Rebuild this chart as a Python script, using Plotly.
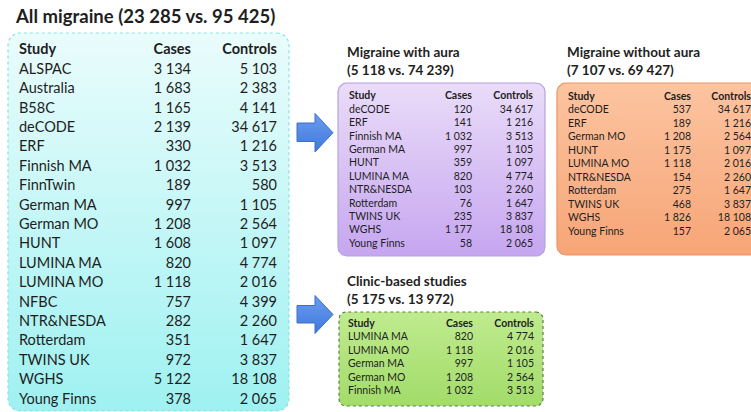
import math
import plotly.graph_objects as go

# ---------------- data ----------------
all_studies = ["ALSPAC", "Australia", "B58C", "deCODE", "ERF", "Finnish MA", "FinnTwin",
               "German MA", "German MO", "HUNT", "LUMINA MA", "LUMINA MO", "NFBC",
               "NTR&NESDA", "Rotterdam", "TWINS UK", "WGHS", "Young Finns"]
all_cases = [3134, 1683, 1165, 2139, 330, 1032, 189, 997, 1208, 1608, 820, 1118, 757,
             282, 351, 972, 5122, 378]
all_controls = [5103, 2383, 4141, 34617, 1216, 3513, 580, 1105, 2564, 1097, 4774, 2016,
                4399, 2260, 1647, 3837, 18108, 2065]

ma_studies = ["deCODE", "ERF", "Finnish MA", "German MA", "HUNT", "LUMINA MA",
              "NTR&NESDA", "Rotterdam", "TWINS UK", "WGHS", "Young Finns"]
ma_cases = [120, 141, 1032, 997, 359, 820, 103, 76, 235, 1177, 58]
ma_controls = [34617, 1216, 3513, 1105, 1097, 4774, 2260, 1647, 3837, 18108, 2065]

mo_studies = ["deCODE", "ERF", "German MO", "HUNT", "LUMINA MO", "NTR&NESDA",
              "Rotterdam", "TWINS UK", "WGHS", "Young Finns"]
mo_cases = [537, 189, 1208, 1175, 1118, 154, 275, 468, 1826, 157]
mo_controls = [34617, 1216, 2564, 1097, 2016, 2260, 1647, 3837, 18108, 2065]

cl_studies = ["LUMINA MA", "LUMINA MO", "German MA", "German MO", "Finnish MA"]
cl_cases = [820, 1118, 997, 1208, 1032]
cl_controls = [4774, 2016, 1105, 2564, 3513]

headers = ["Study", "Cases", "Controls"]

# ---------------- helpers ----------------
W, H = 751, 412
FONT = "Lato"
TXT = "#1e1e1e"


def fmt(v):
    return f"{v:,}".replace(",", " ")


def rrect(x0, y0, x1, y1, r, n=10):
    pts = []
    corners = [(x1 - r, y0 + r, -90, 0), (x1 - r, y1 - r, 0, 90),
               (x0 + r, y1 - r, 90, 180), (x0 + r, y0 + r, 180, 270)]
    for cx, cy, a0, a1 in corners:
        for i in range(n + 1):
            a = math.radians(a0 + (a1 - a0) * i / n)
            pts.append((cx + r * math.cos(a), cy + r * math.sin(a)))
    pts.append(pts[0])
    xs, ys = zip(*pts)
    return list(xs), list(ys)


fig = go.Figure()


def add_box(x0, y0, x1, y1, r, c_top, c_bot, border, dash="dot"):
    xs, ys = rrect(x0, y0, x1, y1, r)
    fig.add_trace(go.Scatter(
        x=xs, y=ys, mode="lines", fill="toself",
        line=dict(color=border, width=1.2, dash=dash),
        fillgradient=dict(type="vertical", colorscale=[[0, c_top], [1, c_bot]],
                          start=y0, stop=y1),
        hoverinfo="skip", showlegend=False))


def add_arrow(x0, xh, x1, ys0, ys1, yh0, yh1):
    ym = (yh0 + yh1) / 2
    xs = [x0, xh, xh, x1, xh, xh, x0, x0]
    ys = [ys0, ys0, yh0, ym, yh1, ys1, ys1, ys0]
    fig.add_trace(go.Scatter(
        x=xs, y=ys, mode="lines", fill="toself",
        line=dict(color="#3d6fc9", width=1),
        fillgradient=dict(type="vertical",
                          colorscale=[[0, "#6b9cf0"], [1, "#3f79dc"]],
                          start=yh0, stop=yh1),
        hoverinfo="skip", showlegend=False))


def texts(xs, ys, labels, size, anchor="left", bold=False):
    pos = "middle right" if anchor == "left" else "middle left"
    fig.add_trace(go.Scatter(
        x=xs, y=ys, mode="text",
        text=[f"<b>{s}</b>" if bold else s for s in labels],
        textposition=pos, textfont=dict(family=FONT, size=size, color=TXT),
        hoverinfo="skip", showlegend=False, cliponaxis=True))


def add_table(studies, cases, controls, xs, xc, xk, y0, step, size):
    texts([xs], [y0], [headers[0]], size, "left", True)
    texts([xc], [y0], [headers[1]], size, "right", True)
    texts([xk], [y0], [headers[2]], size, "right", True)
    ys = [y0 + step * (i + 1) for i in range(len(studies))]
    texts([xs] * len(studies), ys, studies, size, "left")
    texts([xc] * len(cases), ys, [fmt(c) for c in cases], size, "right")
    texts([xk] * len(controls), ys, [fmt(k) for k in controls], size, "right")


# ---------------- boxes ----------------
add_box(8, 33, 289, 411, 12, "#eafcfc", "#9ff1f1", "#86e3e3")
add_box(338, 83, 545, 256, 9, "#eadcf9", "#c6a6f0", "#b6a2dc", "solid")
add_box(557, 83, 775, 255, 9, "#fcc4a0", "#f7a577", "#e99664", "solid")
add_box(339, 312, 543, 406, 7, "#bfeb8e", "#a2dc6a", "#5f7a4c")

add_arrow(297, 315, 333, 123, 141.5, 113.5, 152)
add_arrow(297, 315, 333, 305.5, 323, 295.5, 333.5)

# ---------------- titles ----------------
titles = [
    (16, 18, f"All migraine ({fmt(sum(all_cases))} vs. {fmt(sum(all_controls))})", 18.5),
    (347, 54, "Migraine with aura", 13.5),
    (347, 72, f"({fmt(sum(ma_cases))} vs. {fmt(sum(ma_controls))})", 13.5),
    (567, 54, "Migraine without aura", 13.5),
    (567, 72, f"({fmt(sum(mo_cases))} vs. {fmt(sum(mo_controls))})", 13.5),
    (347, 283, "Clinic-based studies", 13.5),
    (347, 301, f"({fmt(sum(cl_cases))} vs. {fmt(sum(cl_controls))})", 13.5),
]
for tx, ty, tt, ts in titles:
    texts([tx], [ty], [tt], ts, "left", True)

# ---------------- tables ----------------
add_table(all_studies, all_cases, all_controls, 19, 191, 277, 50.7, 19.4, 14.5)
add_table(ma_studies, ma_cases, ma_controls, 349, 472, 533, 96.8, 13.4, 10.5)
add_table(mo_studies, mo_cases, mo_controls, 568, 691, 751, 97.3, 13.5, 10.5)
add_table(cl_studies, cl_cases, cl_controls, 348, 473, 534, 324.3, 13.4, 10.5)

fig.update_layout(
    width=W, height=H, margin=dict(l=0, r=0, t=0, b=0),
    paper_bgcolor="white", plot_bgcolor="white",
    xaxis=dict(range=[0, W], visible=False, fixedrange=True),
    yaxis=dict(range=[H, 0], visible=False, fixedrange=True),
    showlegend=False,
)
fig.write_html("out.html", config={"displayModeBar": False},
               post_script="document.body.style.margin='0';document.body.style.overflow='hidden';")
